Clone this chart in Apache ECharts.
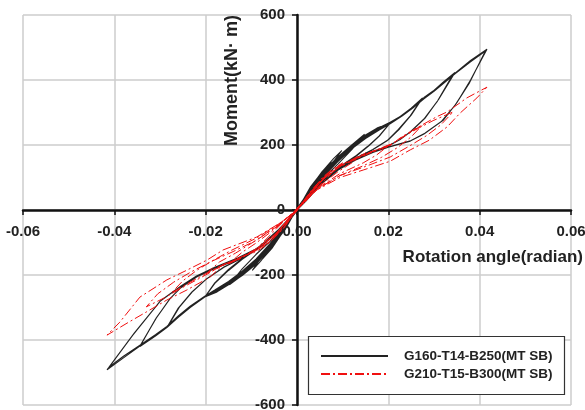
<!DOCTYPE html>
<head>
    <meta charset="UTF-8">
    <title>Moment - rotation</title>
    <style>html,body{margin:0;padding:0;background:#fff}</style>
</head>
<body>
<div id="main" style="width:585px;height:410px"></div>
<script src="https://cdn.jsdelivr.net/npm/echarts@6/dist/echarts.min.js"></script>
<script type="text/javascript">
// axis ticks
var xTicks = [-0.06, 0.06, 0.02];   // min, max, step
var yTicks = [-600, 600, 200];

var names = ['G160-T14-B250(MT SB)', 'G210-T15-B300(MT SB)'];

// G160-T14-B250 : rotation (rad), moment (kN·m), cycles
var g160Small = [
    [0,0],[0.002,46],[0.0037,80],[0.002,42],[0,3],[-0.002,-43],[-0.0037,-80],[-0.002,-40],[0,0],
    [0.0025,58],[0.005,106],[0.003,64],[0,5],[-0.0025,-58],[-0.005,-104],[-0.003,-58],[0,-2],
    [0.003,70],[0.0055,118],[0.0075,149],[0.0052,102],[0.0025,50],[0,5],[-0.003,-66],[-0.0055,-118],[-0.0075,-150],[-0.005,-96],[-0.0025,-46],[0,-2]
];
var g160Mid = [
    [0.003,72],[0.006,126],[0.008,158],[0.0098,183],[0.0075,140],[0.005,96],[0.002,36],[0,4],
    [-0.003,-66],[-0.006,-122],[-0.008,-158],[-0.0098,-186],[-0.0075,-139],[-0.005,-89],[-0.002,-33],[0,0],
    [0.003,66],[0.006,120],[0.009,163],[0.012,200],[0.0148,233],[0.012,186],[0.009,142],[0.006,100],[0.003,55],[0,4],
    [-0.003,-60],[-0.006,-116],[-0.009,-164],[-0.012,-201],[-0.0148,-230],[-0.012,-181],[-0.009,-137],[-0.006,-98],[-0.003,-52],[0,0]
];
var g160c02 = [
    [0.003,66],[0.006,122],[0.009,164],[0.012,200],[0.015,231],[0.0175,252],[0.0204,268],[0.018,228],[0.0155,196],[0.013,168],[0.009,130],[0.005,82],[0.002,35],[0,2],
    [-0.003,-62],[-0.006,-120],[-0.009,-167],[-0.012,-202],[-0.015,-230],[-0.0175,-252],[-0.0202,-268],[-0.018,-226],[-0.015,-186],[-0.012,-152],[-0.008,-113],[-0.004,-63],[0,0],
    [0.003,60],[0.006,114],[0.009,157],[0.012,194],[0.015,226],[0.0178,250],[0.0202,264],[0.0182,230],[0.0158,198],[0.013,166],[0.009,127],[0.005,78],[0.002,30],[0,0],
    [-0.003,-58],[-0.006,-114],[-0.009,-162],[-0.012,-197],[-0.015,-226],[-0.0178,-250],[-0.02,-264],[-0.018,-224],[-0.015,-183],[-0.012,-149],[-0.008,-110],[-0.004,-60],[0,0]
];
var g160c0275 = [
    [0.003,62],[0.006,118],[0.009,160],[0.012,196],[0.015,228],[0.0175,250],[0.0204,270],[0.0226,288],[0.025,313],[0.0275,345],
    [0.025,292],[0.0225,250],[0.02,216],[0.0166,186],[0.013,161],[0.009,128],[0.005,80],[0.002,32],[0,0],
    [-0.003,-60],[-0.006,-117],[-0.009,-164],[-0.012,-199],[-0.015,-228],[-0.0175,-250],[-0.0202,-268],[-0.0234,-300],[-0.026,-330],[-0.0285,-362],
    [-0.026,-302],[-0.023,-252],[-0.02,-214],[-0.016,-176],[-0.012,-148],[-0.008,-112],[-0.004,-62],[0,0],
    [0.003,60],[0.006,115],[0.009,158],[0.012,194],[0.015,226],[0.018,252],[0.0204,268],[0.0228,288],[0.0252,312],[0.0272,340],
    [0.0248,290],[0.0222,248],[0.0198,214],[0.0164,184],[0.013,158],[0.009,126],[0.005,78],[0.002,30],[0,0],
    [-0.003,-58],[-0.006,-114],[-0.009,-160],[-0.012,-196],[-0.015,-226],[-0.018,-252],[-0.0202,-266],[-0.0236,-300],[-0.026,-328],[-0.0282,-356],
    [-0.0258,-300],[-0.0228,-250],[-0.0198,-212],[-0.016,-175],[-0.012,-147],[-0.008,-111],[-0.004,-61],[0,0]
];
var g160c035 = [
    [0.003,58],[0.006,112],[0.009,155],[0.012,192],[0.015,224],[0.018,250],[0.0204,268],[0.023,292],[0.0255,318],[0.0278,346],[0.0298,366],[0.032,393],[0.0346,423],
    [0.031,340],[0.028,282],[0.025,242],[0.0225,216],[0.02,198],[0.0166,180],[0.013,158],[0.009,125],[0.005,78],[0.002,30],[0,0],
    [-0.003,-56],[-0.006,-110],[-0.009,-157],[-0.012,-194],[-0.015,-224],[-0.018,-250],[-0.0202,-268],[-0.0234,-300],[-0.026,-330],[-0.0285,-362],[-0.031,-388],[-0.0344,-420],
    [-0.031,-336],[-0.028,-276],[-0.0256,-241],[-0.022,-206],[-0.018,-180],[-0.013,-152],[-0.008,-114],[-0.004,-64],[0,0],
    [0.003,56],[0.006,110],[0.009,153],[0.012,190],[0.015,222],[0.018,248],[0.0204,266],[0.023,290],[0.0255,316],[0.0278,344],[0.03,366],[0.0322,392],[0.0342,418],
    [0.0308,336],[0.0278,280],[0.0248,240],[0.0222,214],[0.02,197],[0.0166,179],[0.013,157],[0.009,124],[0.005,77],[0.002,29],[0,0],
    [-0.003,-55],[-0.006,-108],[-0.009,-155],[-0.012,-192],[-0.015,-222],[-0.018,-248],[-0.0202,-266],[-0.0234,-298],[-0.026,-328],[-0.0285,-360],[-0.031,-386],[-0.0342,-414],
    [-0.0308,-332],[-0.0278,-273],[-0.0254,-238],[-0.022,-204],[-0.018,-179],[-0.013,-151],[-0.008,-113],[-0.004,-63],[0,0]
];
var g160c042 = [
    [0.003,55],[0.006,108],[0.009,152],[0.012,190],[0.015,222],[0.018,248],[0.0204,266],[0.023,290],[0.0255,316],[0.0278,344],[0.03,367],[0.0325,396],[0.0346,421],[0.038,460],[0.0416,495],
    [0.038,400],[0.035,330],[0.032,276],[0.028,236],[0.025,214],[0.02,194],[0.0166,178],[0.013,156],[0.009,124],[0.005,77],[0.002,29],[0,0],
    [-0.003,-53],[-0.006,-106],[-0.009,-153],[-0.012,-190],[-0.015,-222],[-0.018,-248],[-0.0202,-266],[-0.0234,-298],[-0.026,-328],[-0.0285,-360],[-0.031,-386],[-0.0344,-419],[-0.038,-455],[-0.0416,-492],
    [-0.036,-386],[-0.030,-281],[-0.0256,-236],[-0.022,-204],[-0.018,-177],[-0.013,-149],[-0.008,-114],[-0.004,-64],[0,0],
    [0.003,54],[0.006,106],[0.009,150],[0.012,188],[0.015,220],[0.018,246],[0.0204,265],[0.023,289],[0.0255,315],[0.0278,342],[0.03,365],[0.0325,394],[0.0346,419],[0.038,456],[0.0412,488],
    [0.0378,392],[0.0346,322],[0.0316,272],[0.0278,234],[0.0248,212],[0.02,193],[0.0166,177],[0.013,155],[0.009,123],[0.005,76],[0.002,28],[0,0],
    [-0.003,-52],[-0.006,-105],[-0.009,-151],[-0.012,-188],[-0.015,-220],[-0.018,-246],[-0.0202,-265],[-0.0234,-296],[-0.026,-326],[-0.0285,-358],[-0.031,-384],[-0.0344,-416],[-0.038,-450],[-0.0412,-484],
    [-0.0356,-378],[-0.0298,-278],[-0.0254,-234],[-0.022,-203],[-0.018,-176],[-0.013,-148],[-0.008,-113],[-0.004,-63],[0,0]
];

// G210-T15-B300
var g210Small = [
    [0,0],[0.0025,45],[0.005,88],[0.003,55],[0,5],[-0.0025,-42],[-0.005,-80],[-0.003,-48],[0,-3],
    [0.003,58],[0.0057,100],[0.0075,120],[0.005,82],[0.0025,40],[0,3],[-0.003,-55],[-0.0055,-92],[-0.0075,-112],[-0.005,-78],[-0.0025,-38],[0,0],
    [0.003,56],[0.0057,102],[0.008,128],[0.01,145],[0.0075,112],[0.0045,68],[0.002,28],[0,2],[-0.003,-58],[-0.006,-100],[-0.008,-120],[-0.01,-135],[-0.0075,-100],[-0.0045,-58],[-0.002,-22],[0,0]
];
var g210Mid = [
    [0.003,55],[0.006,100],[0.009,135],[0.012,155],[0.015,176],[0.012,145],[0.009,118],[0.005,75],[0.002,28],[0,0],
    [-0.003,-55],[-0.006,-97],[-0.009,-125],[-0.012,-145],[-0.015,-166],[-0.012,-130],[-0.009,-102],[-0.005,-60],[-0.002,-22],[0,0],
    [0.003,52],[0.0057,98],[0.009,134],[0.0131,160],[0.0165,180],[0.0204,202],[0.0175,170],[0.0145,145],[0.0094,112],[0.0044,66],[0,5],
    [-0.0044,-71],[-0.0088,-120],[-0.0125,-150],[-0.0162,-170],[-0.02,-198],[-0.017,-160],[-0.0135,-133],[-0.0088,-92],[-0.0037,-42],[0,0]
];
var g210c0275 = [
    [0.003,50],[0.0057,96],[0.0094,135],[0.0131,160],[0.0165,180],[0.0204,200],[0.0235,228],[0.0275,262],
    [0.025,225],[0.022,192],[0.0185,162],[0.0145,136],[0.0094,106],[0.0044,64],[0,5],
    [-0.0044,-70],[-0.0088,-118],[-0.0125,-148],[-0.0162,-168],[-0.02,-196],[-0.0234,-222],[-0.0275,-255],
    [-0.025,-218],[-0.022,-186],[-0.0185,-156],[-0.0145,-125],[-0.0088,-86],[-0.0037,-40],[0,0]
];
var g210c035 = [
    [0.003,50],[0.0057,96],[0.0094,134],[0.0131,160],[0.0165,180],[0.0204,200],[0.025,240],[0.0298,275],[0.0342,302],
    [0.0315,262],[0.0285,230],[0.025,200],[0.0204,163],[0.015,134],[0.0094,106],[0.0044,64],[0,6],
    [-0.0044,-70],[-0.0088,-120],[-0.0125,-150],[-0.0162,-169],[-0.02,-200],[-0.025,-238],[-0.029,-270],[-0.033,-298],
    [-0.0305,-258],[-0.027,-222],[-0.0234,-192],[-0.019,-160],[-0.014,-128],[-0.009,-94],[-0.004,-47],[0,0]
];
var g210c042 = [
    [0.003,48],[0.0057,95],[0.0094,133],[0.0131,158],[0.0165,178],[0.0204,198],[0.0226,222],[0.0254,246],[0.0306,287],[0.0329,302],[0.0372,345],[0.0416,378],
    [0.0394,345],[0.0357,298],[0.0329,256],[0.029,215],[0.0248,185],[0.0204,150],[0.0145,123],[0.0094,100],[0.0044,62],[0,5],
    [-0.0044,-71],[-0.0088,-123],[-0.0162,-169],[-0.019,-206],[-0.0241,-246],[-0.0285,-277],[-0.0329,-313],[-0.0372,-348],[-0.0416,-385],
    [-0.0388,-345],[-0.0344,-268],[-0.0285,-215],[-0.0241,-185],[-0.0197,-154],[-0.0162,-123],[-0.0088,-83],[-0.0037,-40],[0,0]
];

var black = [].concat(g160Small, g160Mid, g160c02, g160c0275, g160c035, g160c042);
var red = [].concat(g210Small, g210Mid, g210c0275, g210c035, g210c042);

var font = 'Liberation Sans, Arial, sans-serif';

var option = {
    backgroundColor: '#fff',
    animation: false,
    grid: { left: 23, right: 14, top: 15, bottom: 5, containLabel: false, outerBoundsMode: 'none' },
    legend: {
        left: 308, top: 336,
        orient: 'vertical',
        padding: [13, 11, 13, 12],
        itemGap: 4,
        itemWidth: 67,
        itemHeight: 14,
        itemStyle: { opacity: 0 },
        textStyle: { fontFamily: font, fontWeight: 'bold', fontSize: 13.5, color: '#222', padding: [0, 0, 0, 11] },
        data: names
    },
    graphic: [
        // legend frame
        { type: 'rect', z: 3, shape: { x: 308.5, y: 336.5, width: 256, height: 58 },
          style: { fill: '#fff', stroke: '#333', lineWidth: 1.2 } },
        { type: 'text', x: 232, y: 15, rotation: Math.PI / 2, z: 10,
          style: { text: 'Moment(kN· m)', font: 'bold 18px ' + font, fill: '#222', align: 'right', verticalAlign: 'middle' } },
        { type: 'text', x: 583, y: 257, z: 10,
          style: { text: 'Rotation angle(radian)', font: 'bold 17px ' + font, fill: '#222', align: 'right', verticalAlign: 'middle' } }
    ],
    xAxis: {
        type: 'value',
        min: xTicks[0], max: xTicks[1], interval: xTicks[2],
        position: 'bottom',
        offset: -195,
        axisLine: { onZero: false, lineStyle: { color: '#111', width: 2.5 } },
        axisTick: { show: true, length: 5, lineStyle: { color: '#111', width: 1.5 } },
        axisLabel: { margin: 14, fontFamily: font, fontWeight: 'bold', fontSize: 15, color: '#222',
            formatter: function (v) { return v.toFixed(2); } },
        splitLine: { lineStyle: { color: '#cccccc', width: 1.5 } }
    },
    yAxis: {
        type: 'value',
        min: yTicks[0], max: yTicks[1], interval: yTicks[2],
        position: 'left',
        offset: -274,
        axisLine: { onZero: false, lineStyle: { color: '#111', width: 2.5 } },
        axisTick: { show: true, length: 5, lineStyle: { color: '#111', width: 1.5 } },
        axisLabel: { margin: 12, fontFamily: font, fontWeight: 'bold', fontSize: 15, color: '#222' },
        splitLine: { lineStyle: { color: '#cccccc', width: 1.5 } }
    },
    series: [
        {
            name: names[0],
            type: 'line',
            data: black,
            showSymbol: false,
            symbol: 'none',
            lineStyle: { color: '#222', width: 1.1 },
            itemStyle: { color: '#222' }
        },
        {
            name: names[1],
            type: 'line',
            data: red,
            showSymbol: false,
            symbol: 'none',
            lineStyle: { color: '#f01010', width: 1, type: [9, 3, 2, 3] },
            itemStyle: { color: '#f01010' }
        }
    ]
};

var myChart = echarts.init(document.getElementById('main'));
myChart.setOption(option);
</script>
</body>
